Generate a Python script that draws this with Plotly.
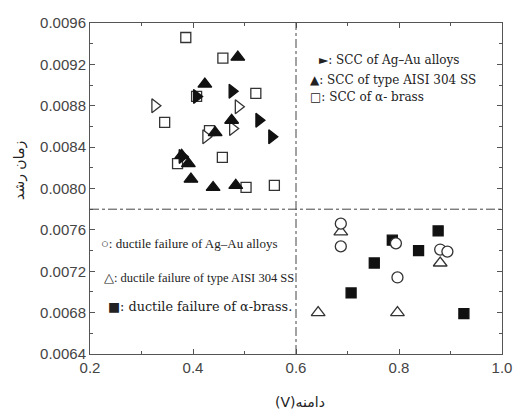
import plotly.graph_objects as go

# ---- data ----
scc_agau_x = [0.407, 0.476, 0.528, 0.553, 0.379]
scc_agau_y = [0.00889, 0.00894, 0.00866, 0.00850, 0.00831]
scc_agau_open_x = [0.326, 0.488, 0.425, 0.477]
scc_agau_open_y = [0.00880, 0.00879, 0.00850, 0.00858]
scc_ss_x = [0.487, 0.423, 0.443, 0.475, 0.378, 0.391, 0.396, 0.439, 0.483]
scc_ss_y = [0.00927, 0.00901, 0.00854, 0.00866, 0.00832, 0.00824, 0.00809, 0.00801, 0.00803]
scc_brass_x = [0.386, 0.458, 0.522, 0.345, 0.432, 0.457, 0.370, 0.503, 0.558, 0.407]
scc_brass_y = [0.00946, 0.00926, 0.00892, 0.00864, 0.00856, 0.00830, 0.00824, 0.00801, 0.00803, 0.00889]

duct_agau_x = [0.687, 0.687, 0.794, 0.797, 0.880, 0.894]
duct_agau_y = [0.00766, 0.00744, 0.00747, 0.00714, 0.00741, 0.00739]
duct_ss_x = [0.687, 0.880, 0.643, 0.797]
duct_ss_y = [0.00758, 0.00728, 0.00680, 0.00680]
duct_brass_x = [0.876, 0.787, 0.838, 0.752, 0.707, 0.926]
duct_brass_y = [0.00759, 0.00750, 0.00740, 0.00728, 0.00699, 0.00679]

x_divider = 0.6
y_divider = 0.0078

top_legend = ["►: SCC of Ag–Au alloys", "▲: SCC of type AISI 304 SS", "□: SCC of α- brass"]
bottom_legend = ["○: ductile failure of Ag–Au alloys", "△: ductile failure of type AISI 304 SS",
                 "■: ductile failure of α-brass."]
x_title = "(V)دامنه"
y_title = "زمان رشد"

BLACK = "#111111"
EDGE = "#333333"

fig = go.Figure()

def add(x, y, symbol, filled, size):
    fig.add_trace(go.Scatter(
        x=x, y=y, mode="markers", showlegend=False, hoverinfo="skip",
        marker=dict(symbol=symbol, size=size,
                    color=BLACK if filled else "white",
                    line=dict(color=EDGE if not filled else BLACK, width=1.3))))

add(scc_brass_x, scc_brass_y, "square", False, 10)
add(scc_agau_open_x, scc_agau_open_y, "triangle-right", False, 12)
add(scc_ss_x, scc_ss_y, "triangle-up", True, 12)
add(scc_agau_x, scc_agau_y, "triangle-right", True, 12)
add(duct_brass_x, duct_brass_y, "square", True, 10)
add(duct_ss_x, duct_ss_y, "triangle-up", False, 12)
add(duct_agau_x, duct_agau_y, "circle", False, 11)

fig.add_shape(type="line", xref="x", yref="paper", x0=x_divider, x1=x_divider, y0=0, y1=1,
              line=dict(color="#444", width=1, dash="dashdot"))
fig.add_shape(type="line", xref="paper", yref="y", x0=0, x1=1, y0=y_divider, y1=y_divider,
              line=dict(color="#444", width=1, dash="dashdot"))

# legend-like text blocks
top_pos = [(0.553, 0.888), (0.532, 0.828), (0.532, 0.776)]
for t, (px, py) in zip(top_legend, top_pos):
    fig.add_annotation(text=t, x=px, y=py, xref="paper", yref="paper", xanchor="left",
                       yanchor="middle", showarrow=False, borderpad=0,
                       font=dict(family="DejaVu Serif", size=12, color="#222"))
bot_pos = [(0.024, 0.335, "Liberation Serif", 13), (0.032, 0.230, "Liberation Serif", 12.5),
           (0.041, 0.142, "DejaVu Serif", 12.8)]
for t, (px, py, fam, fs) in zip(bottom_legend, bot_pos):
    fig.add_annotation(text=t, x=px, y=py, xref="paper", yref="paper", xanchor="left",
                       yanchor="middle", showarrow=False, borderpad=0,
                       font=dict(family=fam, size=fs, color="#222"))

fig.add_annotation(text=y_title, x=-0.170, y=0.556, xref="paper", yref="paper",
                   xanchor="center", yanchor="middle", textangle=-90, showarrow=False,
                   font=dict(family="DejaVu Sans", size=14, color="#222"))
fig.add_annotation(text=x_title, x=0.51, y=-0.145, xref="paper", yref="paper",
                   xanchor="center", yanchor="middle", showarrow=False,
                   font=dict(family="DejaVu Sans", size=14, color="#222"))

axis_common = dict(showgrid=False, zeroline=False, showline=True, linecolor="#555",
                   linewidth=1, mirror="ticks", ticks="inside", ticklen=5, tickcolor="#555",
                   automargin=False,
                   tickfont=dict(family="Liberation Sans", size=15, color="#444"))
fig.update_xaxes(range=[0.2, 1.0], tick0=0.2, dtick=0.2, tickformat=".1f",
                 minor=dict(dtick=0.1, ticks="inside", ticklen=3, tickcolor="#555"),
                 **axis_common)
fig.update_yaxes(range=[0.0064, 0.0096], tick0=0.0064, dtick=0.0004, tickformat=".4f",
                 minor=dict(dtick=0.0002, ticks="inside", ticklen=3, tickcolor="#555"),
                 **axis_common)

fig.update_layout(width=513, height=412, margin=dict(l=90, r=11, t=23, b=58),
                  paper_bgcolor="white", plot_bgcolor="white", hovermode=False)

# remove the default page margin so the figure fills the window exactly
fig.write_html("out.html", config={"displayModeBar": False, "staticPlot": True},
               post_script="document.body.style.margin='0';document.body.style.overflow='hidden';")
